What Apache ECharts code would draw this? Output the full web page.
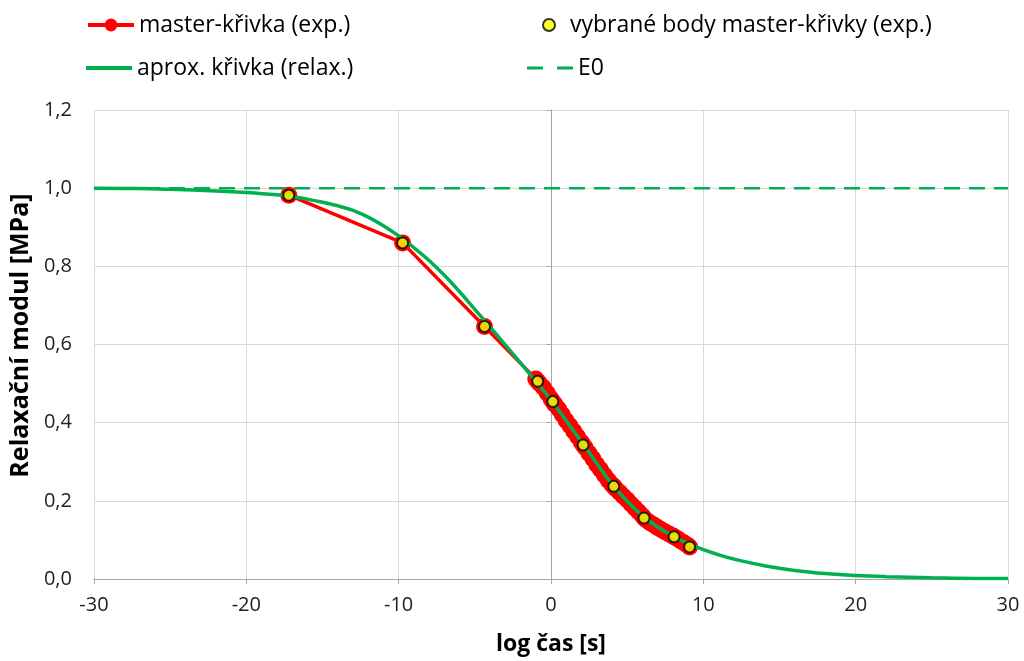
<!DOCTYPE html>
<html>
<head>
<meta charset="utf-8">
<script src="https://cdn.jsdelivr.net/npm/echarts@6/dist/echarts.min.js"></script>
<style>
html,body{margin:0;padding:0;background:#fff;}
#c{width:1024px;height:661px;}
</style>
</head>
<body>
<div id="c"></div>
<script>
// Data
var seriesNames = ['master-křivka (exp.)', 'vybrané body master-křivky (exp.)', 'aprox. křivka (relax.)', 'E0'];

// master curve (exp.) - x: log time, y: modulus
var masterX = [-17.21, -9.74, -4.36, -1.0, -0.87, -0.75, -0.5, -0.25, 0.0, 0.12, 0.25, 0.5, 0.75, 1.0, 1.25, 1.5, 1.75, 2.0, 2.11, 2.25, 2.5, 2.75, 3.0, 3.25, 3.5, 3.75, 4.0, 4.12, 4.25, 4.5, 4.75, 5.0, 5.25, 5.5, 5.75, 6.0, 6.11, 6.25, 6.5, 6.75, 7.0, 7.25, 7.5, 7.75, 8.0, 8.08, 8.25, 8.5, 8.75, 9.0, 9.1];
var masterY = [0.982, 0.860, 0.646, 0.512, 0.506, 0.500, 0.490, 0.476, 0.461, 0.454, 0.447, 0.435, 0.420, 0.405, 0.392, 0.378, 0.364, 0.350, 0.343, 0.336, 0.322, 0.308, 0.293, 0.280, 0.266, 0.253, 0.242, 0.237, 0.231, 0.222, 0.212, 0.203, 0.192, 0.182, 0.172, 0.162, 0.156, 0.151, 0.144, 0.138, 0.132, 0.126, 0.120, 0.115, 0.110, 0.108, 0.104, 0.098, 0.092, 0.086, 0.082];

// selected points of the master curve
var selX = [-17.21, -9.74, -4.36, -0.87, 0.12, 2.11, 4.12, 6.11, 8.08, 9.1];
var selY = [0.982, 0.860, 0.646, 0.506, 0.454, 0.343, 0.237, 0.156, 0.108, 0.082];

// approximation curve (relax.)
var aproxX = [-30, -27, -25, -22, -20, -18, -17, -16, -15, -14, -13, -12, -11, -10, -9, -8, -7, -6, -5, -4, -3, -2, -1, 0, 1, 2, 3, 4, 5, 6, 7, 8, 9, 10, 11, 12, 14, 16, 18, 20, 22, 25, 28, 30];
var aproxY = [1.0, 0.999, 0.997, 0.993, 0.989, 0.983, 0.978, 0.972, 0.964, 0.955, 0.943, 0.926, 0.904, 0.878, 0.848, 0.815, 0.777, 0.735, 0.690, 0.645, 0.599, 0.553, 0.506, 0.458, 0.405, 0.351, 0.296, 0.243, 0.199, 0.162, 0.133, 0.110, 0.091, 0.075, 0.062, 0.051, 0.034, 0.022, 0.014, 0.009, 0.006, 0.003, 0.0015, 0.001];

// E0 line
var e0X = [-30, 30];
var e0Y = [1.0, 1.0];

// Axis settings
var xTicks = {min: -30, max: 30, interval: 10};
var yTicks = {min: 0, max: 1.2, interval: 0.2};
var xTitle = 'log čas [s]';
var yTitle = 'Relaxační modul [MPa]';

function zip(a, b) { return a.map(function (v, i) { return [v, b[i]]; }); }

var FONT = 'Open Sans';
var legendText = {fontSize: 23, lineHeight: 28, color: '#000', fontFamily: FONT};
function legendItem(name, left, top, extra) {
  var base = {
    orient: 'horizontal', left: left, top: top, padding: 0,
    itemWidth: 46, itemHeight: 16, selectedMode: false,
    data: [name], textStyle: legendText
  };
  for (var k in extra) base[k] = extra[k];
  return base;
}

var chart = echarts.init(document.getElementById('c'), null, {renderer: 'canvas'});
var option = {
  backgroundColor: '#ffffff',
  animation: false,
  textStyle: {fontFamily: FONT},
  legend: [
    legendItem(seriesNames[0], 86, 11, {lineStyle: {width: 4}}),
    legendItem(seriesNames[1], 542, 11, {
      itemWidth: 12, itemHeight: 12,
      data: [{name: seriesNames[1], icon: 'circle'}],
      textStyle: {fontSize: 23, lineHeight: 28, color: '#000', fontFamily: FONT, padding: [0, 0, 0, 10]}
    }),
    legendItem(seriesNames[2], 86, 54, {
      itemHeight: 4,
      data: [{name: seriesNames[2], icon: 'rect'}]
    }),
    legendItem(seriesNames[3], 527, 54, {
      itemHeight: 3,
      data: [{name: seriesNames[3], icon: 'path://M0,0H16V3H0Z M30,0H46V3H30Z'}]
    })
  ],
  grid: {left: 93, right: 16, top: 110, bottom: 80, containLabel: false},
  xAxis: {
    type: 'value', min: xTicks.min, max: xTicks.max, interval: xTicks.interval,
    name: xTitle, nameLocation: 'middle', nameGap: 54,
    nameTextStyle: {fontSize: 23, fontWeight: 'bold', color: '#000', fontFamily: FONT},
    axisLine: {onZero: false, lineStyle: {color: '#a6a6a6', width: 1}},
    axisTick: {show: true, length: 5, lineStyle: {color: '#a6a6a6'}},
    axisLabel: {fontSize: 20, color: '#222', margin: 16, fontFamily: FONT},
    splitLine: {show: true, lineStyle: {color: '#d9d9d9', width: 1}}
  },
  yAxis: [
    {
      type: 'value', min: yTicks.min, max: yTicks.max, interval: yTicks.interval,
      name: yTitle, nameLocation: 'middle', nameGap: 60, nameRotate: 90,
      nameTextStyle: {fontSize: 25, fontWeight: 'bold', color: '#000', fontFamily: FONT, padding: [0, 0, 0, 18]},
      axisLine: {show: false},
      axisTick: {show: false},
      axisLabel: {fontSize: 20, color: '#222', margin: 22, fontFamily: FONT,
        formatter: function (v) { return v.toFixed(1).replace('.', ','); }},
      splitLine: {show: true, lineStyle: {color: '#d9d9d9', width: 1}}
    },
    {
      type: 'value', min: yTicks.min, max: yTicks.max, interval: yTicks.interval,
      position: 'left', offset: -457.5,
      axisLine: {show: true, lineStyle: {color: '#a6a6a6', width: 1}},
      axisTick: {show: true, length: 5, lineStyle: {color: '#a6a6a6'}},
      axisLabel: {show: false},
      splitLine: {show: false}
    }
  ],
  series: [
    {
      name: seriesNames[0], type: 'line', data: zip(masterX, masterY),
      symbol: 'circle', symbolSize: 17, showSymbol: true,
      itemStyle: {color: '#ff0000'},
      lineStyle: {color: '#ff0000', width: 3.5},
      z: 2
    },
    {
      name: seriesNames[2], type: 'line', data: zip(aproxX, aproxY),
      smooth: 0.4, showSymbol: false, symbol: 'none',
      itemStyle: {color: '#00b050'},
      lineStyle: {color: '#00b050', width: 3.5},
      z: 3
    },
    {
      name: seriesNames[3], type: 'line', data: zip(e0X, e0Y),
      showSymbol: false, symbol: 'none',
      itemStyle: {color: '#00b050'},
      lineStyle: {color: '#00b050', width: 2.5, type: [16, 9]},
      z: 3
    },
    {
      name: seriesNames[1], type: 'scatter', data: zip(selX, selY),
      symbol: 'circle', symbolSize: 11,
      itemStyle: {color: '#ffff00', borderColor: '#000', borderWidth: 2},
      z: 4
    }
  ]
};
chart.setOption(option);
</script>
</body>
</html>
